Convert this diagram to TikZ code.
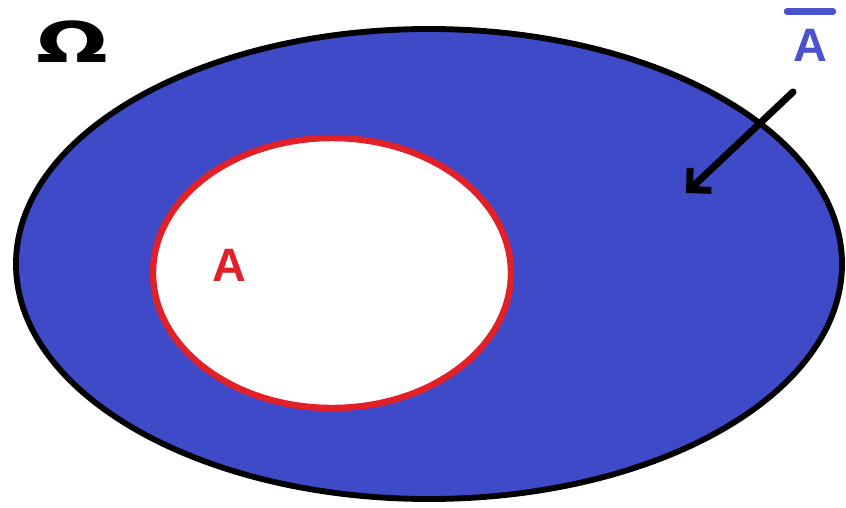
\documentclass[tikz,border=0pt]{standalone}
\usepackage{fontspec}
\setmainfont{Liberation Sans}
\newfontfamily\symfont{DejaVu Sans}
\usetikzlibrary{positioning, arrows.meta}
\definecolor{setblue}{RGB}{62,74,200}
\definecolor{labelblue}{RGB}{74,82,204}
\definecolor{setred}{RGB}{226,32,40}

\begin{document}
\begin{tikzpicture}[x=0.03cm, y=-0.03cm, every node/.style={font=\bfseries\fontsize{40}{40}\selectfont, inner sep=0pt}]
    \useasboundingbox (0,0) rectangle (846,508);

    % Sets
    \filldraw[fill=setblue, draw=black, line width=5pt] (429,264) ellipse [x radius=413, y radius=235];
    \filldraw[fill=white, draw=setred, line width=5.5pt] (332,273) ellipse [x radius=179, y radius=135];

    % Nodes
    \node[text=setred] (a) at (229,265) {A};
    \node[text=labelblue] (abar) at (810,45) {A};
    \node (omega) at (72,42) {\symfont\fontsize{48}{48}\selectfont\scalebox{1.5}[1]{Ω}};
    \coordinate (tail) at (793,92);
    \coordinate (head) at (686,193);

    % Edges
    \draw[labelblue, line width=5.5pt, line cap=round] (abar.north) ++(-23,-17) -- ++(46,0);
    \draw[-{Straight Barb[length=4.6mm, width=9.3mm]}, line width=6pt, line cap=round] (tail) -- (head);
\end{tikzpicture}
\end{document}
